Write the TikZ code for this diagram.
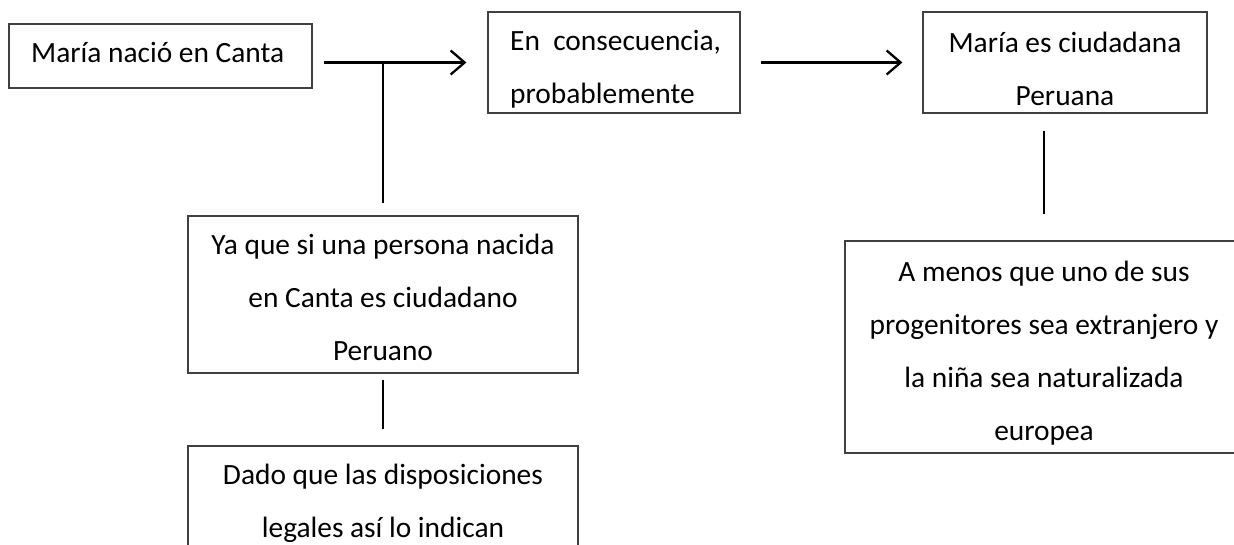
\documentclass[tikz,border=0pt]{standalone}
\usepackage{fontspec}
\setmainfont{Carlito}
\usetikzlibrary{arrows.meta}
\tikzset{
  caja/.style={draw=black!75, line width=1.2pt, rectangle, inner sep=0pt},
  texto/.style={inner sep=0pt, font=\fontsize{29.4}{53}\selectfont, align=center},
  flecha/.style={line width=2.3pt, -{Straight Barb[length=14pt,width=24pt,line width=2.3pt]}},
  linea/.style={line width=2.3pt}
}

\begin{document}
\begin{tikzpicture}[x=1pt, y=-1pt] % 1pt = 1px, y hacia abajo
  \useasboundingbox (0,0) rectangle (1234,544); % margenes

  % cajas
  \node[caja, minimum width=303pt, minimum height=64pt] (nacio) at (160.5,56) {};
  \node[caja, minimum width=252pt, minimum height=101pt] (consec) at (614,62.5) {};
  \node[caja, minimum width=284pt, minimum height=101pt] (ciudadana) at (1065,62.5) {};
  \node[caja, minimum width=390pt, minimum height=157pt] (yaque) at (383,294.5) {};
  \node[caja, minimum width=390pt, minimum height=160pt] (dado) at (383,526) {}; % cortada abajo
  \node[caja, minimum width=398pt, minimum height=212pt] (amenos) at (1044,347) {}; % cortada a la derecha

  % textos (base = linea de base de la ultima linea)
  \node[texto, anchor=base west] (t-nacio) at (31,62) {María nació en Canta};
  \begin{scope}
    \clip (consec.north west) rectangle (consec.south east); % texto recortado por la caja
    \node[texto, align=left, anchor=base west] (t-consec) at (510,103) {En\ \ consecuencia,\\probablemente};
  \end{scope}
  \node[texto, anchor=base] (t-ciudadana) at (1065,105) {María es ciudadana\\Peruana};
  \node[texto, anchor=base] (t-yaque) at (383,360) {Ya que si una persona nacida\\en Canta es ciudadano\\Peruano};
  \node[texto, anchor=base] (t-dado) at (383,537) {Dado que las disposiciones\\legales así lo indican};
  \node[texto, anchor=base] (t-amenos) at (1044,440) {A menos que uno de sus\\progenitores sea extranjero y\\la niña sea naturalizada\\europea};

  % conectores
  \coordinate (cruce) at (yaque.north |- consec.west);
  \draw[flecha, shorten <=11pt, shorten >=21pt] (nacio.east |- consec.west) -- (consec.west);
  \draw[linea, shorten >=12pt] (cruce) -- (yaque.north);
  \draw[linea, shorten <=6pt, shorten >=16pt] (yaque.south) -- (dado.north);
  \draw[flecha, shorten <=20pt, shorten >=20pt] (consec.east) -- (ciudadana.west);
  \draw[linea, shorten <=17pt, shorten >=26pt] (amenos.north |- ciudadana.south) -- (amenos.north);
\end{tikzpicture}
\end{document}
